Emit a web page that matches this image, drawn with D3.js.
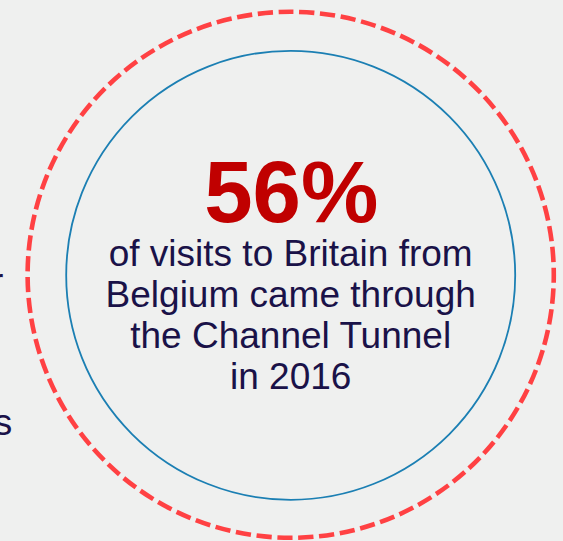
<!DOCTYPE html>
<html>
<head>
<meta charset="utf-8">
<script src="https://cdn.jsdelivr.net/npm/d3@7"></script>
<style>
  html, body { margin: 0; padding: 0; background: #eff0ef; }
  svg { display: block; }
</style>
</head>
<body>
<svg id="chart" width="563" height="541"></svg>
<script>
// Headline figure and caption
const shareValue = [56];
const shareUnit = ["%"];
const captionLines = ["of visits to Britain from", "Belgium came through", "the Channel Tunnel", "in 2016"];
// Ends of the neighbouring column's text lines
const sideWords = ["over", "visits"];

const width = 563, height = 541;
const svg = d3.select("#chart");
const font = "'Liberation Sans', Arial, Helvetica, sans-serif";

svg.append("rect").attr("width", width).attr("height", height).attr("fill", "#eff0ef");

const cx = 290.7, cy = 274.8;

// Outer dashed ring, path starts at 12 o'clock and runs clockwise
const rOuter = 263;
const circPath = r => `M${cx},${cy - r}A${r},${r} 0 1 1 ${cx},${cy + r}A${r},${r} 0 1 1 ${cx},${cy - r}Z`;
const circumference = 2 * Math.PI * rOuter;
const nDashes = 79;
const period = circumference / nDashes;
svg.append("path")
  .attr("d", circPath(rOuter))
  .attr("fill", "none")
  .attr("stroke", "#ff4143")
  .attr("stroke-width", 4.6)
  .attr("stroke-dasharray", `${(period * 0.73).toFixed(3)} ${(period * 0.27).toFixed(3)}`)
  .attr("stroke-dashoffset", 12.5);

// Inner thin ring
svg.append("circle")
  .attr("cx", cx).attr("cy", cy + 0.5).attr("r", 224.5)
  .attr("fill", "none")
  .attr("stroke", "#1b7fb3")
  .attr("stroke-width", 1.8);

// Big percentage
const fmt = d3.format("d");
svg.append("text")
  .attr("x", cx + 0.5).attr("y", 221.5)
  .attr("text-anchor", "middle")
  .attr("font-family", font)
  .attr("font-weight", "bold")
  .attr("font-size", 87)
  .attr("fill", "#c00000")
  .text(fmt(shareValue[0]) + shareUnit[0]);

// Caption lines
const lineY = d3.scalePoint().domain(d3.range(captionLines.length)).range([266, 389]);
svg.append("g")
  .selectAll("text")
  .data(captionLines)
  .join("text")
  .attr("x", cx)
  .attr("y", (d, i) => lineY(i))
  .attr("text-anchor", "middle")
  .attr("font-family", font)
  .attr("font-size", 37)
  .attr("fill", "#1a1248")
  .text(d => d);

// Neighbouring column text, running off the left edge
const sideY = [294, 435];
const sideX = [3.4, 12.2];
svg.append("g")
  .selectAll("text")
  .data(sideWords)
  .join("text")
  .attr("x", (d, i) => sideX[i])
  .attr("y", (d, i) => sideY[i])
  .attr("text-anchor", "end")
  .attr("font-family", font)
  .attr("font-size", 37)
  .attr("fill", "#1a1248")
  .text(d => d);
</script>
</body>
</html>
